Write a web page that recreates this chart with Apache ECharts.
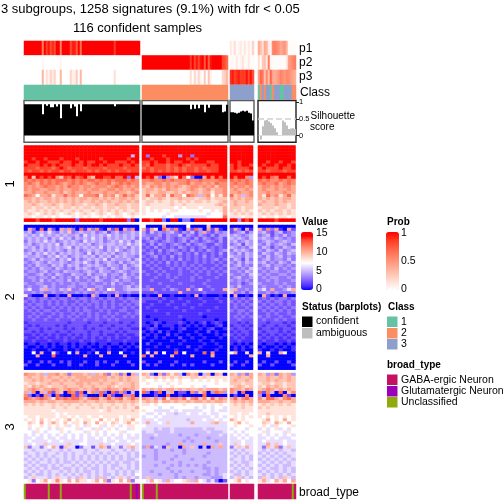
<!DOCTYPE html>
<html><head><meta charset="utf-8">
<style>html,body{margin:0;padding:0;background:#fff}#c{width:504px;height:504px}</style>
<script src="https://cdn.jsdelivr.net/npm/echarts@6/dist/echarts.min.js"></script>
</head><body><div id="c"></div>
<script>
const titleLines = ["3 subgroups, 1258 signatures (9.1%) with fdr < 0.05", "116 confident samples"];
const groupSizes = [58, 43, 12, 19];
const coarseCols = [29, 21, 6, 9];
const annotationRows = ["p1", "p2", "p3"];
const p1Values = [
1,1,1,1,1,1,1,1,1,.6, 1,.85,.95,.8,.9,.8,1,1,.6,1, 1,1,1,.8,.93,.93,.75,1,.65,1, 1,1,1,1,1,1,1,1,1,1, 1,1,1,1,1,.85,1,1,1,1, 1,1,1,1,1,1,1,1,
0,0,0,0,0,0,0,0,0,0, 0,0,0,0,0,0,0,0,0,0, 0,0,0,0,0,0,0,0,0,0, 0,0,0,0,0,0,0,0,0,0, 0,0,0,
.1,.03,.15,.02,.05,.1,.02,.12,.02,.1,.02,.2,
.4,.3,.15,.4,.35,.1,.05,.55,.6,.55,.5,.4,.45,.5,.35,.02,.02,.02,.02];
const p2Values = [
0,0,0,0,0,0,0,0,0,.04, 0,0,0,0,0,0,0,0,.05,0, 0,0,0,0,0,0,0,0,0,0, 0,0,0,0,0,0,0,0,0,0, 0,0,0,0,0,0,0,0,0,0, 0,0,0,0,0,0,0,0,
1,1,1,1,1,1,1,1,1,1, 1,1,1,1,1,1,1,1,1,1, 1,1,1,1,.85,1,.82,.95,.82,.95, 1,.75,1,.72,.95,1,1,1,1,1, .82,.78,.68,
.02,.03,.02,.1,.02,.05,.12,.03,.02,.1,.02,.02,
.15,.02,.25,.3,.1,.6,.05,.02,.02,.02,.02,.02,.02,.02,.1,.45,.5,.55,.6];
const p3Values = [
0,0,0,0,0,0,0,0,0,.36, 0,.15,.05,.2,.1,.2,0,0,.35,0, 0,0,0,.2,.07,.07,.25,0,.35,0, 0,0,0,0,0,0,0,0,0,0, 0,0,0,0,0,.15,0,0,0,0, 0,0,0,0,0,0,0,0,
0,0,0,0,0,0,0,0,0,0, 0,0,0,0,0,0,0,0,0,0, 0,0,0,0,.15,0,.18,.05,.18,.05, 0,.25,0,.28,.05,0,0,0,0,0, .18,.22,.32,
.88,.94,.83,.88,.93,.85,.86,.85,.96,.8,.96,.78,
.45,.68,.6,.3,.55,.3,.7,.43,.38,.43,.48,.58,.53,.48,.55,.53,.48,.43,.38];
const classValues = [
1,1,1,1,1,1,1,1,1,1,1,1,1,1,1,1,1,1,1,1,1,1,1,1,1,1,1,1,1,1,1,1,1,1,1,1,1,1,1,1,1,1,1,1,1,1,1,1,1,1,1,1,1,1,1,1,1,1,
2,2,2,2,2,2,2,2,2,2,2,2,2,2,2,2,2,2,2,2,2,2,2,2,2,2,2,2,2,2,2,2,2,2,2,2,2,2,2,2,2,2,2,
3,3,3,3,3,3,3,3,3,3,3,3,
1,2,3,2,3,3,1,2,3,3,3,1,1,3,3,3,3,2,2];
const silhouetteValues = [
.94,.94,.94,.94,.94,.94,.94,.94,.94,.64, .94,.89,.94,.85,.85,.94,.87,.94,.52,.94, .94,.94,.94,.82,.94,.87,.58,.94,.73,.94, .94,.94,.94,.94,.94,.94,.94,.94,.94,.94, .94,.94,.94,.94,.94,.88,.94,.94,.94,.94, .94,.94,.94,.94,.94,.94,.94,.94,
.92,.92,.92,.92,.92,.92,.92,.92,.92,.92, .92,.92,.92,.92,.92,.92,.92,.92,.92,.92, .92,.92,.92,.92,.79,.92,.8,.92,.82,.92, .92,.7,.92,.83,.92,.92,.92,.92,.92,.92, .7,.72,.92,
.7,.7,.68,.66,.68,.72,.74,.72,.74,.68,.66,.45,
.02,-.12,.28,.45,.47,.42,.38,.3,.22,.1,-.01,.02,.45,.4,.3,.2,.21,.22,.2];
const silhouetteTicks = [0, 0.5, 1];
const broadTypeValues = [
3,1,1,1,1,1,1,1,1,1,1,1,3,1,1,1,1,1,3,1,1,1,1,1,1,1,1,1,1,1,1,1,1,1,1,1,1,1,1,1,1,1,1,1,1,1,1,1,1,1,1,1,1,3,1,1,2,1,
3,1,1,1,1,1,1,3,1,1,1,1,1,1,1,1,1,1,1,1,1,1,1,1,1,1,1,1,1,1,1,1,1,1,1,1,1,1,1,1,1,1,1,
1,1,1,1,1,1,1,1,1,1,1,1,
1,1,1,1,1,1,1,1,1,1,1,1,1,1,1,1,1,3,1];
const sliceLabels = ["1", "2", "3"];
// one hex digit = expression value; groups separated by a space
const slice1Rows = [
"fffffffffffffffffffffffffffff fffffffffffffffffffff ffffff fffffffff",
"ffffffffffffffffffffffffffffe ffffffffefffffffffffe fffffe ffffffffe",
"feffeffefffefffeffefffeeffffe feffefffeffffeffffffe ffefff fffefffff",
"eefeefeefeefeeefefeeffefeef5e f3effdeee4fe3fefeefef fefeff efeffeffe",
"eedeedeefdeeedefeeedfeeeeedee eedeeedefeededeeefeef eeefee eefeefeee",
"deedeedddeddeededdeedeedddede ddedeededdeedeeeddefe eedeee eedeedeed",
"edddedededddeddedeededddedded dcedddcddedcddddeddef dedeed edeedeede",
"dddcdddcdedcdddcddddcddddcddd cdcdddcdcdcddcdcdddee deddde dedddedde",
"dcddcdcddcddcdddcdcddcdcddcdd ddcdcdcdcdcddcddcddef ddcdcd ddcdddcdd",
"eeeeeeeeefeeeeeeeeeeeeeeeefee eeeeeeeeeeeeeeeeeeeef eeeeee eeeeeeeee",
"ce9ededeb9dcecdeb9eeddecce3f5 edea304a8ec7300aebece eceeb4 edecbeece",
"cbcbcbcbcccbcbcbccbcbcbcccbcb bbcbbcbcbbbcbbcbbbbcc cbcbcb cbcbbcbcb",
"bcbacbcbcbabcbcbabcbbcabcbcbb baabbabaabbcabbabacbb bcbbcb bcbbcabcb",
"bababcbbabacbbabbabbbabcbabab a9babababa9abbabab9bb babbab abbababba",
"babbaabbabaabbababbaabbabaaba 9aa9a9baa99aba9ab9aab abaaba abaabaaba",
"aabaabaaab9abaaabaaabaabaa9ab 9a99aa99a9a9aa9aa8aab aabaab aabaaabaa",
"cba7aab8aacaba7bbbc8bab8acab9 9c8aab8caa7cba5ab7a8b c9a5ab a8cab8ac9",
"aa9a9aa9a9a9a9aa9aa9a9a9aa9a9 9899a9899a999899a8999 a9a9aa a9a9a9aa9",
"9a9a99a9a9a9a9a99a9a9a99a9a9a 89989889898989989889a 9a99a9 9a99a9a99",
"99a9899a9899a99899a9899a99899 8988888988988888889a9 9a9999 a999a9989",
"99899898989989899899899899899 87888888787888788888a 999899 899989989",
"98898989898898988989898989889 87878778877777877878a 989898 989899898",
"89878989878987898789878987898 87777787777777776777a 898989 898989898",
"88788787877787878778787887787 77777677666666667777c 888788 878878878",
"eeedeeedeeeee3eeeeedeeeeee3e0 eedee30ee0330eefeeeef ee4ede eeeedeeee"];
const slice2Rows = [
"00000000000000000000000000000 70000a00000700009000 000000 000000000",
"0a30c0a20a4a30c1a3b10a2c0a3b0 a2a80ca3b10a2c40a2a10 2a30a1 a2b3a10a2",
"45245464354934544534524534454 425343453243524a32434 234524 453245234",
"54546454545445364545464545454 433342433524324324244 454345 345243534",
"45454535464535454645354545453 342432432343242432342 545435 454354343",
"35454645345454364545345464535 234323432342432343242 453454 345434543",
"45345454635454545345455454645 324243234324234322432 345254 435345435",
"54535454545635454546354545354 232423232432323423232 543435 354243543",
"34545354543545345454354643454 323242343232423243234 354543 435435345",
"45354645354545436354545345454 234232323423242323242 435354 354354354",
"54454354645345454535453545443 323423242323232423232 544354 435345343",
"34535445354635345454635444535 232323232423232323423 354253 345344353",
"43454354454345464353454353454 323232423232232323232 435354 453435435",
"34354435453545345454354435345 232322323232323222323 345343 345344343",
"43435443543435454345435435434 223232232323232323232 443435 434353434",
"34434534435444345435443454344 322323222322323232323 334354 343443343",
"43345343543354435344534435343 232232322322232232232 433435 434334434",
"34434435343435343453434345434 222322323222323222322 345334 343443343",
"33435343443534334354334534433 223222232222322232222 434343 334343334",
"43344334343343443433435343343 222232222322222322222 334234 433343433",
"34334534333443343344334334534 232222322222322232222 435333 343334343",
"46335a44354933436a3437933455 33a22324322a23822322a 5a3343 463a3346a",
"33434334334334343343433433433 222322222a22222322222 933424 334343334",
"82000a00200a00010a30020a10100 0100a00100010a0100010 0a0010 0a2010a00",
"23323323233232332323233232332 222212111211112111211 232323 232323323",
"32323232323223232332323223233 211121121112111211121 323232 323233232",
"23233232323232323232323232323 112111211121112111111 232323 232323232",
"32323223232323232232323223232 121111112111211111211 232232 323232323",
"23232332322323233223232233223 111211111121111121111 323323 232323232",
"22323223232232323232232322323 111111211111112111111 223232 223232232",
"23232232232323223232323223232 101111111211111011111 232323 323223223",
"22322322322232232232232322222 111011111101111111011 223222 232232322",
"12222222222122221222122212212 101210111210101201210 221212 221222121",
"21212222121222212221221222122 110201110101010100120 122121 212212212",
"12221212221212212122212212211 012100010120001012001 212212 122121221",
"22121222122122221221222121222 101020100100010020100 121221 212221212",
"11212121211212121221211212112 010100201001001000101 212121 121212121",
"21121211212121121212121211211 100101000200100100010 121211 212121212",
"11211121112111211211121112111 001000010010001001000 112111 121121121",
"01101101011010110101101101010 020010000100000100100 101010 101101010",
"10010101001010101001010010101 000100100002001000010 010101 010010101",
"00100010001001000100010001000 010000001000010000100 010100 100101001",
"0070a00810070a0010800a0070010 080a0700c070000c0b000 7a0080 a0800a700",
"000a000c0000000a000a00000a000 c0a0000a0000a0000a000 00000a 00a000000",
"00000000000000000000000000000 000000000000000000000 000000 000000000",
"02002020020200020020200200200 200020002000000200020 020020 020020020",
"20020002000200200020002000020 020200020020200002000 200200 200200002",
"00000000000000000000000000000 000000000000000000000 000000 000000000"];
const slice3Rows = [
"baa9a5aab9a3aaa9a5a9b39a3a0a5 a930a3a8a50b9a05a0a90 a94a3a a94a3a9a4",
"9a99a9a99a9a9aaa9aaaa9a9a9a99 898989898988998988888 99a99a 99a99a9a9",
"99a9a99aa9a9a9aaaaa9a999a9a99 877878787877878787878 9a99a9 99a9a99a9",
"899899a99a999aa9a99a99a9899a9 787777877877777777877 999899 899899899",
"98a9a98999a999a99a999a98999a9 777767787777877677777 89a989 98a9a9899",
"9aba9aaba9abaa9a9ab9abaa9baa9 a9a9a9aa9a9a99a9aaa9a baa9ba 9aba9a9a9",
"a5b0a5c2a90cb2c09b4c30c2b3050 c302c05a0220b39b04cb4 b50c00 c2b50c09b",
"b3020b40c100c2b3000c0b200b4c0 000200c00100000c00000 0200b0 40c000b20",
"cbabcba8cbcbcca9bcc9acabc9aca ba9b5c8bbac8bc9b8c9ba ac9bca b9cca9bca",
"aaa9a9aa99aaaa9a99a99aa9a99a9 9a9a8aa9a99a9aa9a9aa9 9a9a9a aaa99a99a",
"98989889898988989889889889898 887877777787777878787 898989 898989898",
"8888888988988988898989898988a 777767767777767676776 888988 989888888",
"88888887888888888887898888898 877666676766666776766 888888 888888888",
"88888888787888888888888888888 766767665667667676677 887887 889888888",
"78878888788787887887888878788 677676666666666667676 787878 878787878",
"87879787878a7878877a7879788a7 666766666665666766767 a87877 78a787a78",
"7987a78a8797887a87a7879878a78 6a6676966666a66669a66 78a787 7987a87a7",
"78778787878678768778678767887 766666666666666666666 787778 787687778",
"76787767687778677686787677687 666565565555555655666 677767 676786767",
"77687677787677768787677786777 566555565555555565556 767677 786777687",
"67676767676767676767676767676 555655555455545555565 676767 676767676",
"66766766766767676676767667666 554555555554555545555 667676 667676667",
"67666676676666676666766766767 555555555545455555455 666766 676666766",
"66766966666966776669667666676 555555455a55555a55595 696766 66a696766",
"9366367a61966036626a9366369a6 4a36519550a595050a5a5 3696a6 6396a3696",
"66566656656566656656665665656 555455545545555555555 656566 656565665",
"56656566565656656565656566565 555455555545555545555 565656 565656566",
"65656565665656565656565656565 455455554555555455555 656565 656565656",
"56565656565656565656565656556 555455545555455555555 566565 565656565",
"65656656565565656565656565565 555554555455555545555 656556 656565656",
"56565565656656565656565566565 555455545454545455555 565656 565656556",
"65656565565565656556565656565 555555455555555445455 656565 656556565",
"56565656656565655656566565656 554555545455455545455 565656 565656565",
"65655656565656565656556565657 555545554555555445456 655656 656565656",
"56966656966565965659565696565 595555554545545554446 569565 596565965",
"78378a78b87a7a8878a7a387a7a37 76a785a677895a7646302 78a787 8a67a8a7a"];
const legendValueTicks = [15, 10, 5, 0];
const legendProbTicks = [1, 0.5, 0];
const legendStatus = ["confident", "ambiguous"];
const legendClass = ["1", "2", "3"];
const legendBroad = ["GABA-ergic Neuron", "Glutamatergic Neuron", "Unclassified"];

const FONT = '"Liberation Sans", Arial, sans-serif';
const valueRamp = ['#0000ff','#4a2dff','#7050ff','#9374ff','#b198ff','#cdbbff','#e7ddff','#ffffff','#ffe3da','#ffc6b6','#ffa994','#ff8b72','#ff6b51','#ff4530','#ff0000','#ff0000'];
const probRamp = ['#ffffff','#ffe0d6','#ffc2b0','#ffa48c','#ff8468','#ff6245','#ff3b22','#ff0000'];
const classColors = {1:'#66C2A5',2:'#FC8D62',3:'#8DA0CB'};
const broadColors = {1:'#C51162',2:'#9A00B8',3:'#8FAA0C'};
const colX = [[24,139],[142,227],[230,253],[258,295.5]];
const sampleX = [[24,140],[142,228],[230,254],[258,296]];
const sliceY = [[145.5,221.7],[225,369.7],[373,482.3]];

const grid=[], xAxis=[], yAxis=[], series=[], valueSeries=[], probSeries=[];
function panel(g, top, bottom, nRows, nCols, extraY, gridExtra){
  const i = grid.length;
  const xs = nCols===groupSizes[g] ? sampleX : colX;
  grid.push(Object.assign({left:xs[g][0], width:xs[g][1]-xs[g][0], top, height:bottom-top, show:false}, gridExtra||{}));
  xAxis.push({type:'category', gridIndex:i, show:false, data:Array.from({length:nCols},(_,k)=>k)});
  yAxis.push(extraY || {type:'category', gridIndex:i, show:false, inverse:true, data:Array.from({length:nRows},(_,k)=>k)});
  return i;
}
function part(arr,g){ let s=0; for(let k=0;k<g;k++) s+=groupSizes[k]; return arr.slice(s,s+groupSizes[g]); }

for(let g=0;g<4;g++){
  let i = panel(g,41,84.5,3,groupSizes[g]);
  const pd=[];
  [p1Values,p2Values,p3Values].forEach((a,r)=>part(a,g).forEach((v,c)=>pd.push([c,r,v])));
  probSeries.push(series.length);
  series.push({type:'heatmap',xAxisIndex:i,yAxisIndex:i,data:pd,silent:true});
  i = panel(g,85,99.7,1,groupSizes[g]);
  series.push({type:'heatmap',xAxisIndex:i,yAxisIndex:i,silent:true,
    data:part(classValues,g).map((v,c)=>({value:[c,0,v],itemStyle:{color:classColors[v]}}))});
  const sy = {type:'value',gridIndex:i+1,min:-0.2,max:1.05,position:'right',show:g===3,
    splitLine:{show:false},axisLine:{show:false},
    axisTick:{show:g===3,length:3,customValues:silhouetteTicks,lineStyle:{color:'#222'}},
    axisLabel:{show:g===3,customValues:silhouetteTicks,fontSize:7.5,color:'#000',margin:3,fontFamily:FONT}};
  i = panel(g,100.5,142.3,1,groupSizes[g],sy,{show:true,backgroundColor:'transparent',borderColor:g===3?'#222':'#5a5a5a',borderWidth:1.4});
  const ser={type:'bar',xAxisIndex:i,yAxisIndex:i,barWidth:'100%',barCategoryGap:0,silent:true,data:part(silhouetteValues,g),
    itemStyle:{color:g===3?'#BEBEBE':'#000'}};
  if(g===3) ser.markLine={silent:true,symbol:'none',label:{show:false},lineStyle:{color:'#cfcfcf',type:'dashed',width:1.5},data:[{yAxis:0.5}]};
  series.push(ser);
  [slice1Rows,slice2Rows,slice3Rows].forEach((rows,si)=>{
    const n=coarseCols[g];
    const j=panel(g,sliceY[si][0],sliceY[si][1],rows.length,n);
    const d=[];
    rows.forEach((row,r)=>{
      const cell=row.split(' ')[g];
      const s=cell.padEnd(n,cell.slice(-1));
      for(let c=0;c<n;c++) d.push([c,r,parseInt(s[c],16)]);
    });
    valueSeries.push(series.length);
    series.push({type:'heatmap',xAxisIndex:j,yAxisIndex:j,data:d,silent:true});
  });
  i=panel(g,484,499,1,groupSizes[g]);
  series.push({type:'heatmap',xAxisIndex:i,yAxisIndex:i,silent:true,
    data:part(broadTypeValues,g).map((v,c)=>({value:[c,0,v],itemStyle:{color:broadColors[v]}}))});
}

const T=(text,x,y,o)=>Object.assign({type:'text',x,y,silent:true,style:Object.assign({text,fill:'#000',font:'12px '+FONT,textAlign:'left',textVerticalAlign:'middle'},o||{})});
const R=(x,y,w,h,fill)=>({type:'rect',silent:true,shape:{x,y,width:w,height:h},style:{fill}});
const els=[];
annotationRows.forEach((t,k)=>els.push(T(t,299,[49,63,77][k])));
els.push(T('Class',300,93));
els.push(T('Silhouette',310.5,116,{font:'10px '+FONT}));
els.push(T('score',310,127,{font:'10px '+FONT}));
els.push(T('broad_type',299,493));
sliceLabels.forEach((t,k)=>els.push(Object.assign(T(t,10,[184,297,427][k],{font:'13px '+FONT,textAlign:'center'}),{rotation:Math.PI/2})));
const B='bold 10px '+FONT, L='10.5px '+FONT;
els.push(T('Value',302,222.5,{font:B}));
legendValueTicks.forEach((t,k)=>{const y=[233.5,252,271,289][k]; els.push(T(String(t),316,y,{font:L}));});
els.push(T('Prob',387,222.5,{font:B}));
legendProbTicks.forEach((t,k)=>{const y=[233.5,261.5,289][k]; els.push(T(String(t),401,y,{font:L}));});
[[232.5],[251],[270],[288.5]].forEach(a=>{els.push(R(301,a[0],3,1,'#fff'));els.push(R(310,a[0],3,1,'#fff'));});
[[232.5],[260.5],[288.5]].forEach(a=>{els.push(R(386,a[0],3,1,'#fff'));els.push(R(396,a[0],3,1,'#fff'));});
els.push(T('Status (barplots)',302,307,{font:B}));
legendStatus.forEach((t,k)=>{const y=[316.5,328][k];els.push(R(302,y,10.5,10.5,['#000','#BEBEBE'][k]));els.push(T(t,316,y+5,{font:L}));});
els.push(T('Class',388,307,{font:B}));
legendClass.forEach((t,k)=>{const y=[316.5,328,339][k];els.push(R(387,y,10.5,10.5,classColors[k+1]));els.push(T(t,401,y+5.5,{font:L}));});
els.push(T('broad_type',387,365,{font:B}));
legendBroad.forEach((t,k)=>{const y=[374.5,386,397][k];els.push(R(387,y,10.5,10.5,broadColors[k+1]));els.push(T(t,401,y+5.5,{font:L}));});

const chart=echarts.init(document.getElementById('c'),null,{renderer:'canvas',width:504,height:504});
chart.setOption({
  animation:false,backgroundColor:'#fff',
  title:[
    {text:titleLines[0],left:1,top:3,padding:0,textStyle:{fontFamily:FONT,fontSize:13,fontWeight:'normal',color:'#000'}},
    {text:titleLines[1],left:73,top:22,padding:0,textStyle:{fontFamily:FONT,fontSize:13,fontWeight:'normal',color:'#000'}}
  ],
  grid,xAxis,yAxis,series,
  visualMap:[
    {type:'continuous',min:0,max:15,seriesIndex:valueSeries,inRange:{color:valueRamp},left:301,top:232,itemWidth:12,itemHeight:58,padding:0,text:['',''],textGap:0,calculable:false,showLabel:false,hoverLink:false},
    {type:'continuous',min:0,max:1,seriesIndex:probSeries,inRange:{color:probRamp},left:386,top:232,itemWidth:13,itemHeight:58,padding:0,text:['',''],textGap:0,calculable:false,showLabel:false,hoverLink:false}
  ],
  graphic:{elements:els}
});
</script></body></html>
